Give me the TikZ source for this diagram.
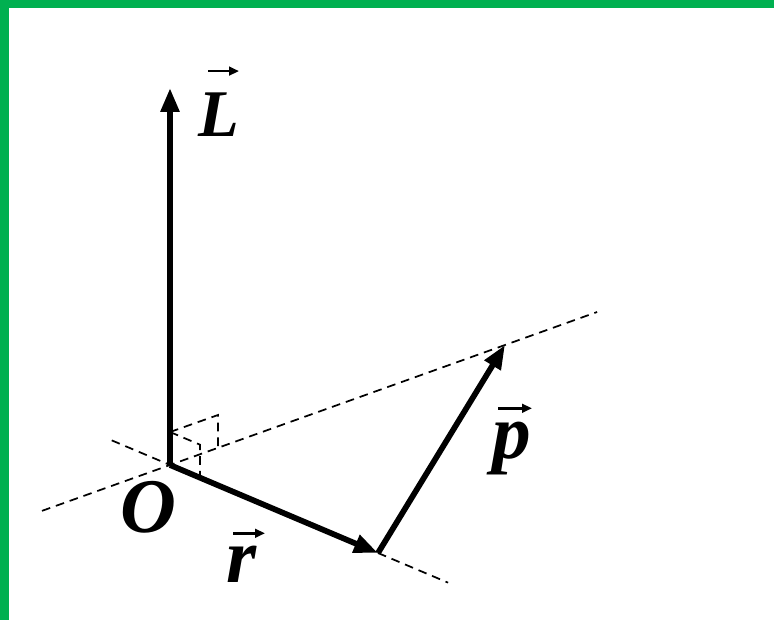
\documentclass[tikz,border=0pt]{standalone}
\usepackage{fontspec}
\setmainfont{Liberation Serif}
\usetikzlibrary{arrows.meta, positioning, calc}
\definecolor{framegreen}{RGB}{0,176,80}

\begin{document}
\begin{tikzpicture}[x=0.75pt, y=-0.75pt,
    vecarrow/.style={line width=4.3pt, -{Triangle[length=18pt,width=13.5pt]}},
    accent/.style={line width=2pt, -{Triangle[length=7.5pt,width=6.5pt]}},
    guide/.style={line width=1.3pt, dash pattern=on 6.5pt off 4.5pt},
    lbl/.style={font=\fontsize{58}{62}\selectfont\bfseries\itshape, inner sep=0pt, anchor=base},
]
    \useasboundingbox (0,0) rectangle (774,620);
    \fill[framegreen] (0,0) rectangle (774,8);
    \fill[framegreen] (0,0) rectangle (9,620);

    \coordinate (O) at (170,465);
    \coordinate (Ltip) at (170,88);
    \coordinate (rtip) at (378,553);
    \coordinate (ptip) at (505,345);

    % guide lines
    \coordinate (g1) at ($(O)!-0.382!(ptip)$);
    \coordinate (g2) at ($(O)!1.275!(ptip)$);
    \coordinate (g3) at ($(O)!-0.28!(rtip)$);
    \coordinate (g4) at ($(O)!1.337!(rtip)$);
    \draw[guide] (g1) -- (g2);
    \draw[guide] (g3) -- (O);
    \draw[guide] (rtip) -- (g4);

    % right angle marks
    \coordinate (m0) at (170,432);
    \coordinate (m1) at ($(m0)+(48,-17)$);
    \coordinate (m2) at ($(O)+(48,-17)$);
    \coordinate (m3) at ($(m0)+(30,12.7)$);
    \coordinate (m4) at ($(O)+(30,12.7)$);
    \draw[guide] (m0) -- (m1) -- (m2);
    \draw[guide] (m0) -- (m3) -- (m4);

    % vectors
    \draw[vecarrow] (O) -- (Ltip);
    \draw[vecarrow] (O) -- (rtip);
    \draw[vecarrow] (rtip) -- (ptip);

    \node[lbl, font=\fontsize{50}{54}\selectfont\bfseries\itshape] (Llbl) at (219,137) {L};
    \node[lbl] (Olbl) at (148,532) {O};
    \node[lbl] (rlbl) at (242,582) {r};
    \node[lbl] (plbl) at (512,458) {p};

    % arrows over the letters
    \draw[accent] ($(Llbl.north)+(-11,-22)$) -- ++(31,0);
    \draw[accent] ($(rlbl.north)+(-9,-12)$) -- ++(32,0);
    \draw[accent] ($(plbl.north)+(-14,-13)$) -- ++(34,0);
\end{tikzpicture}
\end{document}
